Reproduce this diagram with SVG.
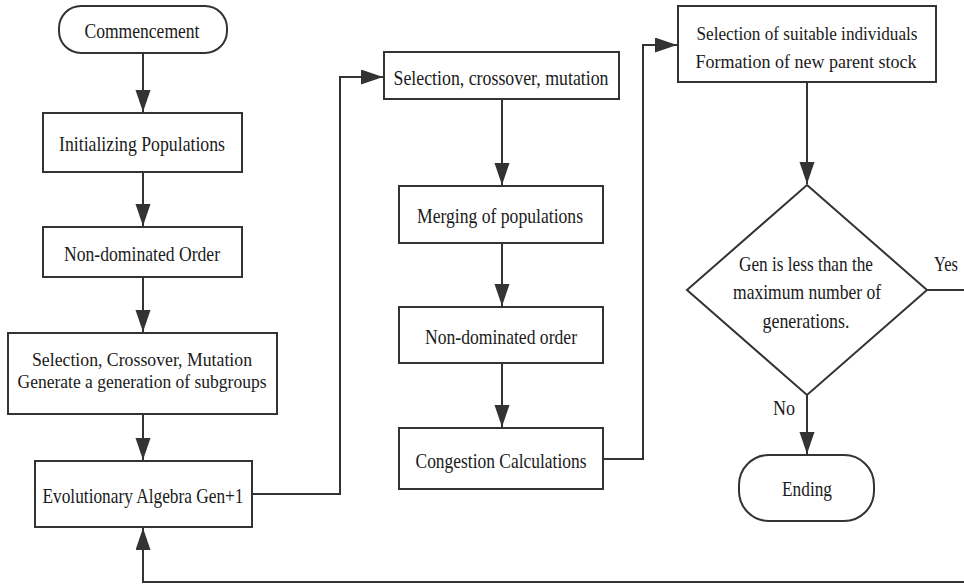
<svg xmlns="http://www.w3.org/2000/svg" width="964" height="585" viewBox="0 0 964 585">
<style>
.box{fill:#fff;stroke:#333;stroke-width:2}
.ln{fill:none;stroke:#333;stroke-width:2}
text{font-family:"Liberation Serif","Times New Roman","DejaVu Serif",serif;font-size:21px;fill:#1a1a1a;text-anchor:middle}
.sm{font-size:19px}
</style>
<defs>
<marker id="ah" markerUnits="userSpaceOnUse" markerWidth="22" markerHeight="16" refX="22" refY="7.5" orient="auto">
<path d="M0,0 L22,7.5 L0,15 Z" fill="#333"/>
</marker>
</defs>
<rect width="964" height="585" fill="#fff"/>
<g id="connectors">
<path class="ln" d="M143,53 V112" marker-end="url(#ah)"/>
<path class="ln" d="M143,172 V226" marker-end="url(#ah)"/>
<path class="ln" d="M143,277 V332" marker-end="url(#ah)"/>
<path class="ln" d="M143,414 V460" marker-end="url(#ah)"/>
<path class="ln" d="M252,494 H340 V77 H383" marker-end="url(#ah)"/>
<path class="ln" d="M502,99 V185" marker-end="url(#ah)"/>
<path class="ln" d="M502,243 V306" marker-end="url(#ah)"/>
<path class="ln" d="M502,363 V427" marker-end="url(#ah)"/>
<path class="ln" d="M603,459 H643 V45 H677" marker-end="url(#ah)"/>
<path class="ln" d="M807,82 V184" marker-end="url(#ah)"/>
<path class="ln" d="M807,395 V454" marker-end="url(#ah)"/>
<path class="ln" d="M927,290 H975 V582 H143 V528" marker-end="url(#ah)"/>
<text x="946" y="271" textLength="24" lengthAdjust="spacingAndGlyphs">Yes</text>
<text x="784" y="415" textLength="22" lengthAdjust="spacingAndGlyphs">No</text>
</g>
<g id="commencement">
<rect class="box" x="59" y="6" width="168" height="47" rx="22" ry="22"/>
<text x="142" y="38" textLength="115" lengthAdjust="spacingAndGlyphs">Commencement</text>
</g>
<g id="init">
<rect class="box" x="43" y="113" width="199" height="59"/>
<text x="142" y="151" textLength="166" lengthAdjust="spacingAndGlyphs">Initializing Populations</text>
</g>
<g id="nondom1">
<rect class="box" x="43" y="227" width="199" height="50"/>
<text x="142" y="261" textLength="156" lengthAdjust="spacingAndGlyphs">Non-dominated Order</text>
</g>
<g id="selection1">
<rect class="box" x="8" y="333" width="269" height="81"/>
<text class="sm" x="142" y="366" textLength="220" lengthAdjust="spacingAndGlyphs">Selection, Crossover, Mutation</text>
<text class="sm" x="142" y="388" textLength="249" lengthAdjust="spacingAndGlyphs">Generate a generation of subgroups</text>
</g>
<g id="evolutionary">
<rect class="box" x="35" y="461" width="217" height="66"/>
<text x="143" y="503" textLength="201" lengthAdjust="spacingAndGlyphs">Evolutionary Algebra Gen+1</text>
</g>
<g id="selection2">
<rect class="box" x="384" y="52" width="235" height="47"/>
<text x="501" y="85" textLength="215" lengthAdjust="spacingAndGlyphs">Selection, crossover, mutation</text>
</g>
<g id="merging">
<rect class="box" x="399" y="186" width="204" height="57"/>
<text x="500" y="223" textLength="166" lengthAdjust="spacingAndGlyphs">Merging of populations</text>
</g>
<g id="nondom2">
<rect class="box" x="399" y="307" width="204" height="56"/>
<text x="501" y="344" textLength="152" lengthAdjust="spacingAndGlyphs">Non-dominated order</text>
</g>
<g id="congestion">
<rect class="box" x="399" y="428" width="204" height="61"/>
<text x="501" y="468" textLength="171" lengthAdjust="spacingAndGlyphs">Congestion Calculations</text>
</g>
<g id="suitable">
<rect class="box" x="678" y="6" width="258" height="76"/>
<text class="sm" x="807" y="40" textLength="221" lengthAdjust="spacingAndGlyphs">Selection of suitable individuals</text>
<text class="sm" x="806" y="68" textLength="221" lengthAdjust="spacingAndGlyphs">Formation of new parent stock</text>
</g>
<g id="decision">
<polygon class="box" points="807,185 927,290 807,395 687,290"/>
<text x="806" y="271" textLength="134" lengthAdjust="spacingAndGlyphs">Gen is less than the</text>
<text x="807" y="299" textLength="148" lengthAdjust="spacingAndGlyphs">maximum number of</text>
<text x="806" y="328" textLength="87" lengthAdjust="spacingAndGlyphs">generations.</text>
</g>
<g id="ending">
<rect class="box" x="739" y="455" width="135" height="66" rx="30" ry="30"/>
<text x="807" y="496" textLength="50" lengthAdjust="spacingAndGlyphs">Ending</text>
</g>
</svg>
